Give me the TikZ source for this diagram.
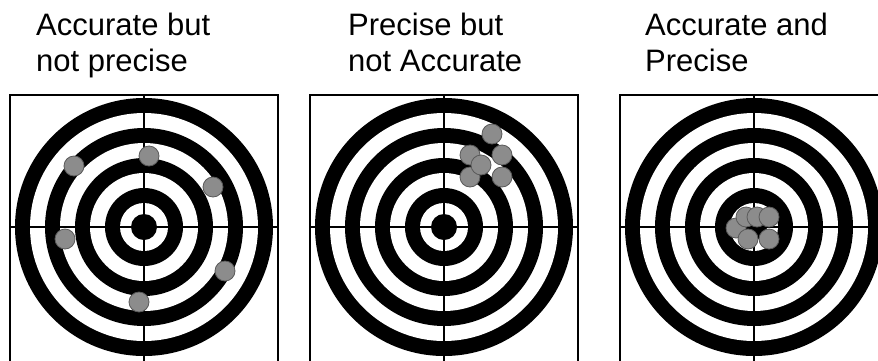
\documentclass[tikz,border=0pt]{standalone}
\usepackage{fontspec}
\setmainfont{Liberation Sans}
\definecolor{shotgray}{HTML}{8C8C8C}
\definecolor{shotedge}{HTML}{5A5A5A}

\begin{document}
\begin{tikzpicture}[
        x=1pt, y=-1pt,
        caption/.style={anchor=north west, align=left, inner sep=0pt, font=\fontsize{31}{36}\selectfont},
        frame/.style={draw=black, line width=2pt},
        hair/.style={draw=black, line width=1.3pt},
        shot/.style={fill=shotgray, draw=shotedge, line width=0.8pt}
    ]
        \useasboundingbox (0,0) rectangle (878,360);
        \clip (0,0) rectangle (878,360);

        % captions
        \node[caption] (capA) at (36,12.5) {Accurate but\\not precise};
        \node[caption] (capB) at (348,12.5) {Precise but\\not Accurate};
        \node[caption] (capC) at (645,12.5) {Accurate and\\Precise};

        % three targets
        \foreach \cx/\nm in {144/A, 444/B, 754/C} {
            \coordinate (ctr\nm) at (\cx,227);
            \fill[white] (\cx-134,95) rectangle (\cx+134,361);
            \foreach \r/\c in {129/black, 114/white, 99/black, 84/white, 69/black, 54/white, 39/black, 24/white, 13/black}
                \fill[\c] (ctr\nm) circle (\r);
            \draw[hair] (\cx-134,227) -- (\cx+134,227);
            \draw[hair] (\cx,95) -- (\cx,361);
            \draw[frame] (\cx-134,365) -- (\cx-134,95) -- (\cx+134,95) -- (\cx+134,365);
        }

        % shots, accurate but not precise
        \foreach \x/\y in {74/166, 149/156, 213/187, 65/239, 225/271, 139/302}
            \filldraw[shot] (\x,\y) circle (10);

        % shots, precise but not accurate
        \foreach \x/\y in {492/134, 470/155, 502/155, 470/177, 502/177, 481/165}
            \filldraw[shot] (\x,\y) circle (10);

        % shots, accurate and precise
        \foreach \x/\y in {736/228, 746/217, 757/217, 769/217, 748/239, 769/239}
            \filldraw[shot] (\x,\y) circle (10);
    \end{tikzpicture}
\end{document}
